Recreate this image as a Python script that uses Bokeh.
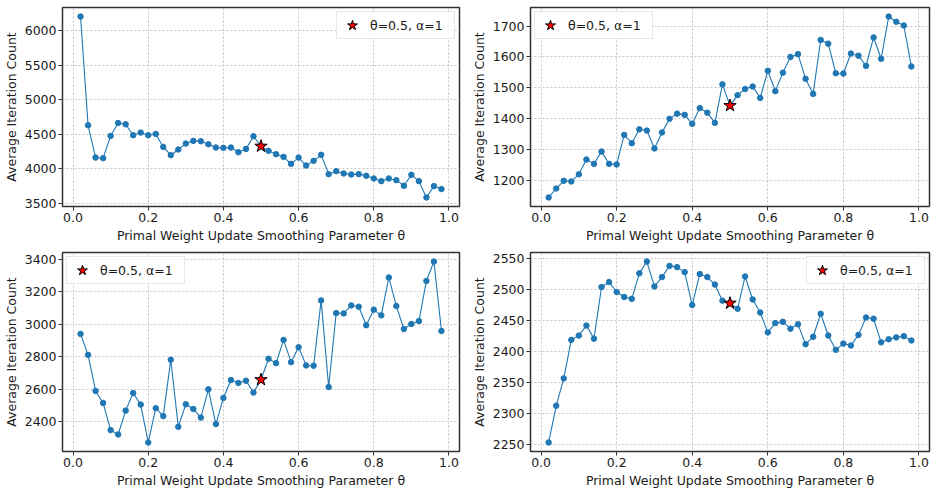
from bokeh.plotting import figure
from bokeh.layouts import gridplot
from bokeh.models import Range1d, FixedTicker, NumeralTickFormatter, Legend, LegendItem
from bokeh.embed import file_html
from bokeh.resources import INLINE

theta = [0.02, 0.04, 0.06, 0.08, 0.10, 0.12, 0.14, 0.16, 0.18, 0.20,
         0.22, 0.24, 0.26, 0.28, 0.30, 0.32, 0.34, 0.36, 0.38, 0.40,
         0.42, 0.44, 0.46, 0.48, 0.50, 0.52, 0.54, 0.56, 0.58, 0.60,
         0.62, 0.64, 0.66, 0.68, 0.70, 0.72, 0.74, 0.76, 0.78, 0.80,
         0.82, 0.84, 0.86, 0.88, 0.90, 0.92, 0.94, 0.96, 0.98]

series_tl = [6202, 4630, 4163, 4154, 4476, 4663, 4644, 4486, 4524, 4486,
             4505, 4317, 4197, 4279, 4365, 4404, 4399, 4356, 4308, 4303,
             4308, 4240, 4288, 4471, 4327, 4260, 4211, 4173, 4072, 4163,
             4048, 4115, 4202, 3923, 3966, 3933, 3918, 3923, 3899, 3860,
             3822, 3860, 3836, 3755, 3913, 3822, 3586, 3750, 3707]
series_tr = [1144, 1173, 1198, 1196, 1219, 1267, 1253, 1293, 1253, 1251,
             1347, 1320, 1365, 1361, 1303, 1355, 1399, 1416, 1412, 1383,
             1434, 1419, 1386, 1511, 1442, 1476, 1496, 1504, 1467, 1555,
             1489, 1549, 1600, 1609, 1529, 1480, 1655, 1643, 1547, 1546,
             1611, 1604, 1571, 1663, 1594, 1731, 1714, 1702, 1569]
series_bl = [2941, 2812, 2590, 2516, 2349, 2322, 2469, 2577, 2506, 2273,
             2484, 2435, 2782, 2369, 2508, 2479, 2426, 2600, 2386, 2547,
             2657, 2639, 2653, 2580, 2659, 2788, 2761, 2904, 2767, 2859,
             2747, 2745, 3147, 2614, 3069, 3067, 3116, 3108, 2994, 3090,
             3055, 3288, 3112, 2971, 3002, 3020, 3267, 3386, 2959]
series_br = [2254, 2313, 2357, 2419, 2426, 2442, 2421, 2504, 2512, 2496,
             2488, 2485, 2526, 2545, 2505, 2520, 2538, 2536, 2528, 2475,
             2525, 2520, 2508, 2482, 2478, 2469, 2521, 2484, 2463, 2431,
             2446, 2448, 2437, 2444, 2412, 2424, 2461, 2426, 2403, 2413,
             2410, 2427, 2455, 2453, 2415, 2420, 2423, 2425, 2418]

x_ticks = [0.0, 0.2, 0.4, 0.6, 0.8, 1.0]
y_ticks_tl = [3500, 4000, 4500, 5000, 5500, 6000]
y_ticks_tr = [1200, 1300, 1400, 1500, 1600, 1700]
y_ticks_bl = [2400, 2600, 2800, 3000, 3200, 3400]
y_ticks_br = [2250, 2300, 2350, 2400, 2450, 2500, 2550]

star_theta = 0.5
legend_label = "θ=0.5, α=1"
x_label = "Primal Weight Update Smoothing Parameter θ"
y_label = "Average Iteration Count"

FONT = "DejaVu Sans"
FS = "12.5px"
BLUE = "#1f77b4"


def make_panel(ys, yticks, legend_loc, left, right, top, bottom):
    xmin, xmax = min(theta), max(theta)
    ymin, ymax = min(ys), max(ys)
    xs_pad = 0.05 * (xmax - xmin)
    ys_pad = 0.05 * (ymax - ymin)
    p = figure(width=468, height=245, output_backend="svg", toolbar_location=None,
               x_range=Range1d(xmin - xs_pad, xmax + xs_pad),
               y_range=Range1d(ymin - ys_pad, ymax + ys_pad),
               min_border_left=left, min_border_right=right,
               min_border_top=top, min_border_bottom=bottom)
    p.background_fill_color = "white"
    p.border_fill_color = "white"
    p.outline_line_color = "#333333"
    p.outline_line_width = 1.5

    for ax in (p.xaxis, p.yaxis):
        ax.axis_line_color = None
        ax.major_tick_out = 4
        ax.major_tick_in = 0
        ax.minor_tick_line_color = None
        ax.major_tick_line_color = "#333333"
        ax.major_label_text_font = FONT
        ax.major_label_text_font_size = FS
        ax.major_label_text_color = "#1a1a1a"
        ax.axis_label_text_font = FONT
        ax.axis_label_text_font_size = FS
        ax.axis_label_text_font_style = "normal"
        ax.axis_label_text_color = "#1a1a1a"
        ax.major_label_standoff = 2
        ax.axis_label_standoff = 3

    p.xaxis.ticker = FixedTicker(ticks=x_ticks)
    p.xaxis.formatter = NumeralTickFormatter(format="0.0")
    p.yaxis.ticker = FixedTicker(ticks=yticks)
    p.xaxis.axis_label = x_label
    p.yaxis.axis_label = y_label

    for g in (p.xgrid, p.ygrid):
        g.grid_line_color = "#b8b8b8"
        g.grid_line_dash = "2 2"
        g.grid_line_width = 0.8

    p.line(theta, ys, line_color=BLUE, line_width=1.1)
    p.scatter(theta, ys, size=5.5, fill_color=BLUE, line_color=BLUE)

    idx = theta.index(star_theta)
    star = p.scatter([theta[idx]], [ys[idx]], marker="star", size=13,
                     fill_color="red", line_color="black", line_width=1)

    legend = Legend(items=[LegendItem(label=legend_label, renderers=[star])],
                    location=legend_loc)
    legend.label_text_font = FONT
    legend.label_text_font_size = FS
    legend.label_text_color = "#1a1a1a"
    legend.border_line_color = "#d0d0d0"
    legend.border_line_width = 1
    legend.background_fill_alpha = 0.85
    legend.margin = 4
    legend.padding = 0
    legend.glyph_width = 30
    legend.glyph_height = 26
    legend.label_standoff = 3
    legend.label_height = 20
    legend.label_width = 84
    p.add_layout(legend, "center")
    return p


p1 = make_panel(series_tl, y_ticks_tl, "top_right", 57, 9, 7, 38)
p2 = make_panel(series_tr, y_ticks_tr, "top_left", 59, 7, 7, 38)
p3 = make_panel(series_bl, y_ticks_bl, "top_left", 57, 9, 7, 39)
p4 = make_panel(series_br, y_ticks_br, "top_right", 59, 7, 7, 39)

grid = gridplot([[p1, p2], [p3, p4]], toolbar_location=None)

open("out.html", "w").write(file_html(grid, INLINE))
